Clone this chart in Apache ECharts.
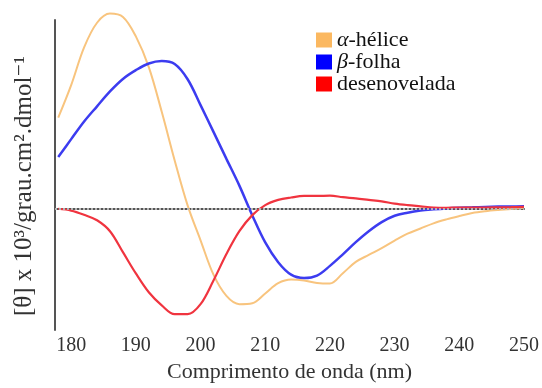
<!DOCTYPE html>
<html>
<head>
<meta charset="utf-8">
<script src="https://cdn.jsdelivr.net/npm/echarts@6/dist/echarts.min.js"></script>
<style>
  html, body { margin: 0; padding: 0; background: #fff; }
  #chart { width: 542px; height: 388px; }
</style>
</head>
<body>
<div id="chart"></div>
<script>
  // comprimentos de onda (nm), passo de 2 nm
  var wavelengths = [178, 180, 182, 184, 186, 188, 190, 192, 194, 196, 198, 200, 202, 204, 206, 208, 210, 212, 214, 216, 218, 220, 222, 224, 226, 228, 230, 232, 234, 236, 238, 240, 242, 244, 246, 248, 250]

  // [θ] x 10^3
  var helixTheta = [29.9, 40.6, 53, 61.1, 64.1, 63, 56.6, 46.5, 31.8, 15.8, 1, -10.5, -21.8, -28.8, -31.5, -31.2, -28, -24.6, -23.4, -23.7, -24.5, -24.7, -21.3, -17.6, -15.3, -13.1, -10.6, -8.3, -6.6, -4.9, -3.6, -2.5, -1.5, -0.9, -0.5, -0.2, 0.2]
  var sheetTheta = [16.9, 22.8, 28.6, 33.6, 38.5, 42.6, 45.5, 47.7, 48.5, 47.5, 42.5, 34, 25.2, 16.3, 7.5, -2.3, -11.2, -17.7, -21.8, -22.9, -22.1, -18.9, -15.1, -11.1, -7.5, -4.5, -2.4, -1.4, -0.7, -0.3, 0, 0.2, 0.35, 0.5, 0.6, 0.65, 0.7]
  var coilTheta = [-0.1, -0.7, -2.1, -3.9, -7.5, -14.4, -21.4, -27.6, -31.9, -34.8, -34.8, -31.5, -23.7, -15, -7.5, -2.2, 1.1, 2.8, 3.6, 4.1, 4.1, 4.2, 3.7, 3.3, 2.8, 2.3, 1.6, 1.1, 0.7, 0.3, 0.2, 0.3, 0.3, 0.3, 0.35, 0.4, 0.5]

  var seriesNames = ['α-hélice', 'β-folha', 'desenovelada']

  function pairs(ys) {
    return wavelengths.map(function (x, i) { return [x, ys[i]] })
  }

  var serif = '"Liberation Serif", "DejaVu Serif", serif'

  var chart = echarts.init(document.getElementById('chart'))
  chart.setOption({
    animation: false,
    grid: {
      left: 55,
      right: 14,
      top: 20,
      bottom: 55
    },
    legend: {
      orient: 'vertical',
      left: 311,
      top: 24,
      icon: 'rect',
      itemWidth: 16,
      itemHeight: 15,
      itemGap: 0,
      data: [
        {name: seriesNames[0], itemStyle: {color: '#fbb860'}},
        {name: seriesNames[1], itemStyle: {color: '#0000ff'}},
        {name: seriesNames[2], itemStyle: {color: '#ff0000'}}
      ],
      formatter: function (name) {
        if (name === seriesNames[0]) return '{g|α}{t|-hélice}'
        if (name === seriesNames[1]) return '{g|β}{t|-folha}'
        return '{t|' + name + '}'
      },
      textStyle: {
        fontFamily: serif,
        fontSize: 22,
        color: '#111',
        rich: {
          g: {fontFamily: serif, fontStyle: 'italic', fontSize: 22, color: '#111'},
          t: {fontFamily: serif, fontSize: 22, color: '#111'}
        }
      }
    },
    xAxis: {
      type: 'value',
      min: 177.5,
      max: 250,
      interval: 2.5,
      axisLine: {lineStyle: {color: '#555', width: 2}},
      axisTick: {show: false},
      splitLine: {show: false},
      axisLabel: {
        margin: 6,
        fontFamily: serif,
        fontSize: 20,
        color: '#333',
        formatter: function (v) {
          return v % 10 === 0 ? String(v) : ''
        }
      },
      name: 'Comprimento de onda (nm)',
      nameLocation: 'middle',
      nameGap: 31,
      nameTextStyle: {fontFamily: serif, fontSize: 22, color: '#333'}
    },
    yAxis: {
      type: 'value',
      min: -40,
      max: 62,
      axisLine: {lineStyle: {color: '#555', width: 2}},
      axisTick: {show: false},
      axisLabel: {show: false},
      splitLine: {show: false},
      name: '[θ] x 10³/grau.cm².dmol\u207B\u00B9',
      nameLocation: 'middle',
      nameGap: 18,
      nameTextStyle: {fontFamily: serif, fontSize: 25, color: '#333', padding: [0, 22, 0, 0]}
    },
    series: [
      {
        name: seriesNames[0],
        type: 'line',
        smooth: 0.35,
        showSymbol: false,
        clip: false,
        lineStyle: {color: '#f8c47e', width: 2},
        itemStyle: {color: '#fbb860'},
        data: pairs(helixTheta),
        markLine: {
          silent: true,
          symbol: ['none', 'none'],
          label: {show: false},
          lineStyle: {type: [2, 2], color: '#b4b4b4', width: 2},
          data: [{yAxis: 0}]
        }
      },
      {
        name: seriesNames[1],
        type: 'line',
        smooth: 0.35,
        showSymbol: false,
        clip: false,
        lineStyle: {color: '#3c3cf0', width: 2.5},
        itemStyle: {color: '#0000ff'},
        data: pairs(sheetTheta)
      },
      {
        name: seriesNames[2],
        type: 'line',
        smooth: 0.35,
        showSymbol: false,
        clip: false,
        lineStyle: {color: '#f0343f', width: 2.2},
        itemStyle: {color: '#ff0000'},
        data: pairs(coilTheta)
      }
    ]
  })
</script>
</body>
</html>
